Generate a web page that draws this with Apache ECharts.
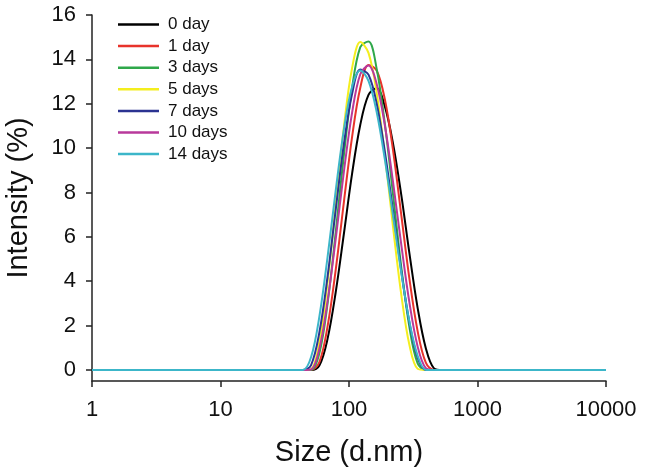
<!DOCTYPE html>
<html>
<head>
<meta charset="utf-8">
<script src="https://cdn.jsdelivr.net/npm/echarts@6/dist/echarts.min.js"></script>
<style>
html,body{margin:0;padding:0;background:#fff;}
#chart{width:669px;height:472px;}
</style>
</head>
<body>
<div id="chart"></div>
<script>
// Size bins (d.nm)
const sizes = [1, 10, 28.2, 32.7, 37.8, 43.8, 50.7, 58.8, 68.1, 78.8, 91.3, 105.7, 122.4, 141.8, 164.2, 190.1, 220.2, 255.0, 295.3, 342.0, 396.1, 458.7, 531.2, 615.1, 712.4, 825.0, 1000, 10000];

const seriesNames = ['0 day', '1 day', '3 days', '5 days', '7 days', '10 days', '14 days'];
const seriesColors = ['#000000', '#e8332b', '#2fa84a', '#f4ee1e', '#2b3391', '#b8399b', '#3cb6c9'];

const day0  = [0,0,0,0, 0,0,0,0.20,1.40,3.50,6.15,8.85,11.05,12.40,12.70,11.88,10.20,7.90,5.25,2.80,0.98,0.07,0, 0,0,0,0,0];
const day1  = [0,0,0,0, 0,0,0,0.35,1.96,4.51,7.58,10.51,12.72,13.75,13.50,12.20,9.90,7.00,4.10,1.75,0.33,0,0, 0,0,0,0,0];
const day3  = [0,0,0,0, 0,0,0,0.75,2.99,6.20,9.71,12.72,14.55,14.80,13.57,11.10,7.90,4.65,1.92,0.29,0,0,0, 0,0,0,0,0];
const day5  = [0,0,0,0, 0,0,0.04,1.26,3.95,7.45,10.96,13.61,14.78,14.29,12.49,9.69,6.44,3.41,1.12,0.05,0,0,0, 0,0,0,0,0];
const day7  = [0,0,0,0, 0,0,0.22,1.69,4.20,7.22,10.19,12.45,13.54,13.31,12.01,9.84,7.17,4.47,2.13,0.55,0,0,0, 0,0,0,0,0];
const day10 = [0,0,0,0, 0,0,0.02,0.95,3.10,5.90,8.95,11.60,13.33,13.72,12.89,11.03,8.46,5.66,3.03,1.06,0.08,0,0, 0,0,0,0,0];
const day14 = [0,0,0,0, 0,0,0.58,2.40,5.09,8.08,10.84,12.77,13.50,13.03,11.63,9.49,6.94,4.40,2.17,0.64,0,0,0, 0,0,0,0,0];

const allValues = [day0, day1, day3, day5, day7, day10, day14];
const yTicks = [0, 2, 4, 6, 8, 10, 12, 14, 16];

const FONT = "'Liberation Sans', Arial, sans-serif";
const chart = echarts.init(document.getElementById('chart'), null, {renderer: 'canvas'});

const series = seriesNames.map((name, i) => ({
  name: name,
  type: 'line',
  data: sizes.map((s, k) => [s, allValues[i][k]]),
  symbol: 'none',
  smooth: 0.35,
  lineStyle: {color: seriesColors[i], width: 2},
  itemStyle: {color: seriesColors[i]},
  z: 2 + i,
  animation: false
}));

chart.setOption({
  backgroundColor: '#ffffff',
  animation: false,
  grid: {left: 92, right: 63, top: 15, bottom: 91, containLabel: false, outerBoundsMode: 'none'},
  legend: {
    orient: 'vertical',
    left: 113, top: 11,
    icon: 'rect',
    itemWidth: 41, itemHeight: 2.5, itemGap: 4.6,
    textStyle: {fontFamily: FONT, fontSize: 17, color: '#111', padding: [0,0,0,4]},
    data: seriesNames
  },
  xAxis: {
    type: 'log', logBase: 10, min: 1, max: 10000,
    name: 'Size (d.nm)', nameLocation: 'middle', nameGap: 57,
    nameTextStyle: {fontFamily: FONT, fontSize: 29, color: '#111'},
    axisLine: {onZero: false, lineStyle: {color: '#222', width: 1.5}},
    axisTick: {show: true, inside: false, length: 6, lineStyle: {color: '#222', width: 1.5}},
    minorTick: {show: false},
    splitLine: {show: false},
    axisLabel: {fontFamily: FONT, fontSize: 22, color: '#111', margin: 18,
      formatter: v => String(Math.round(v))}
  },
  yAxis: {
    type: 'value', min: -0.5, max: 16,
    name: 'Intensity (%)', nameLocation: 'middle', nameGap: 59, nameRotate: 90,
    nameTextStyle: {fontFamily: FONT, fontSize: 29, color: '#111'},
    axisLine: {show: true, lineStyle: {color: '#222', width: 1.5}},
    axisTick: {show: true, inside: false, length: 6, customValues: yTicks, lineStyle: {color: '#222', width: 1.5}},
    splitLine: {show: false},
    axisLabel: {fontFamily: FONT, fontSize: 22, color: '#111', margin: 16, customValues: yTicks,
      formatter: v => String(v)}
  },
  series: series
});
</script>
</body>
</html>
